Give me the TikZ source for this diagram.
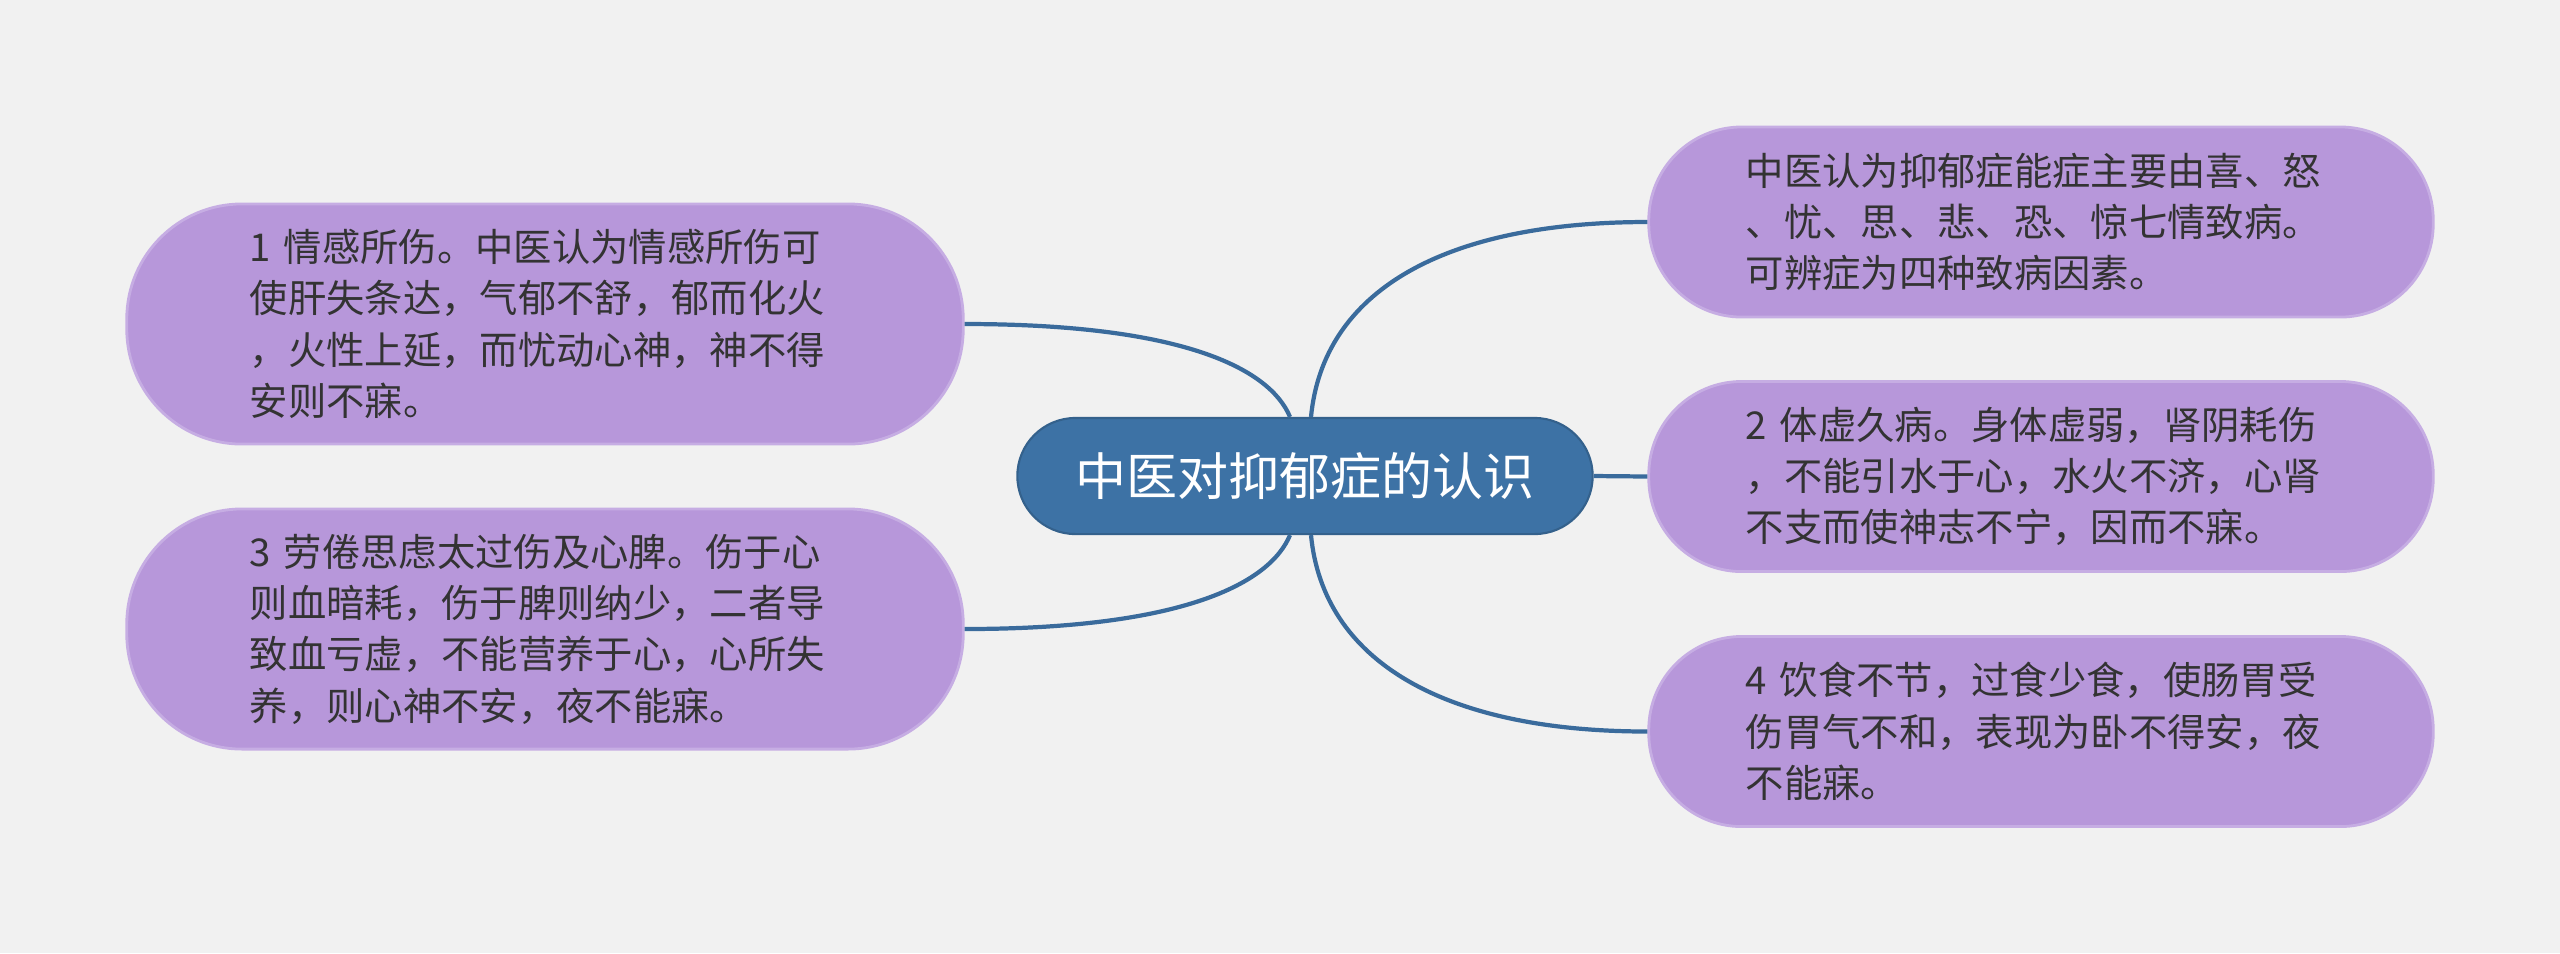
\documentclass[tikz,border=0pt]{standalone}
\usepackage{fontspec}
\newfontfamily\cjk{Noto Sans CJK SC}

\definecolor{bgcol}{HTML}{F1F1F1}
\definecolor{topicfill}{HTML}{3D72A5}
\definecolor{leaffill}{HTML}{B797DA}
\definecolor{leafedge}{HTML}{C6ADE3}
\definecolor{linkcol}{HTML}{3A6B9C}
\definecolor{txtcol}{HTML}{333333}

\tikzset{
  topic/.style={fill=topicfill, draw=topicfill!85!black, line width=0.6pt,
    rounded corners=0.58cm, minimum width=5.75cm, minimum height=1.16cm,
    inner sep=0pt, text=white, font=\cjk\fontsize{14.5pt}{17pt}\selectfont},
  leaf/.style={fill=leaffill, draw=leafedge, line width=0.8pt, text=txtcol,
    align=left, text width=5.9cm, inner sep=0pt,
    font=\cjk\fontsize{10.9pt}{14.6pt}\selectfont},
  leftleaf/.style={leaf, minimum width=8.36cm, minimum height=2.40cm, rounded corners=1.15cm},
  rightleaf/.style={leaf, minimum width=7.84cm, minimum height=1.90cm, rounded corners=0.93cm},
  link/.style={draw=linkcol, line width=1.2pt}
}

\begin{document}
\begin{tikzpicture}[x=0.01cm, y=-0.01cm]
  \fill[bgcol] (0,0) rectangle (2560,953);
  \useasboundingbox (0,0) rectangle (2560,953);

  % central topic
  \node[topic] (root) at (1305,476) {中医对抑郁症的认识};

  % left side
  \node[leftleaf] (emotion) at (545,324) {1 情感所伤。中医认为情感所伤可\\使肝失条达，气郁不舒，郁而化火\\，火性上延，而忧动心神，神不得\\安则不寐。};
  \node[leftleaf] (fatigue) at (545,629) {3 劳倦思虑太过伤及心脾。伤于心\\则血暗耗，伤于脾则纳少，二者导\\致血亏虚，不能营养于心，心所失\\养，则心神不安，夜不能寐。};

  % right side
  \node[rightleaf] (sevenemo) at (2041,222) {中医认为抑郁症能症主要由喜、怒\\、忧、思、悲、恐、惊七情致病。\\可辨症为四种致病因素。};
  \node[rightleaf] (weakness) at (2041,476.5) {2 体虚久病。身体虚弱，肾阴耗伤\\，不能引水于心，水火不济，心肾\\不支而使神志不宁，因而不寐。};
  \node[rightleaf] (diet) at (2041,731.5) {4 饮食不节，过食少食，使肠胃受\\伤胃气不和，表现为卧不得安，夜\\不能寐。};

  % connectors
  \draw[link] (emotion.east) .. controls +(219,0) and +(-20,-48) .. ([xshift=-0.15cm]root.north);
  \draw[link] (fatigue.east) .. controls +(219,0) and +(-20,48) .. ([xshift=-0.15cm]root.south);
  \draw[link] ([xshift=0.06cm]root.north) .. controls +(12,-125) and +(-205,0) .. (sevenemo.west);
  \draw[link] ([xshift=0.06cm]root.south) .. controls +(12,125) and +(-205,0) .. (diet.west);
  \draw[link] (root.east) -- (weakness.west);
\end{tikzpicture}
\end{document}
